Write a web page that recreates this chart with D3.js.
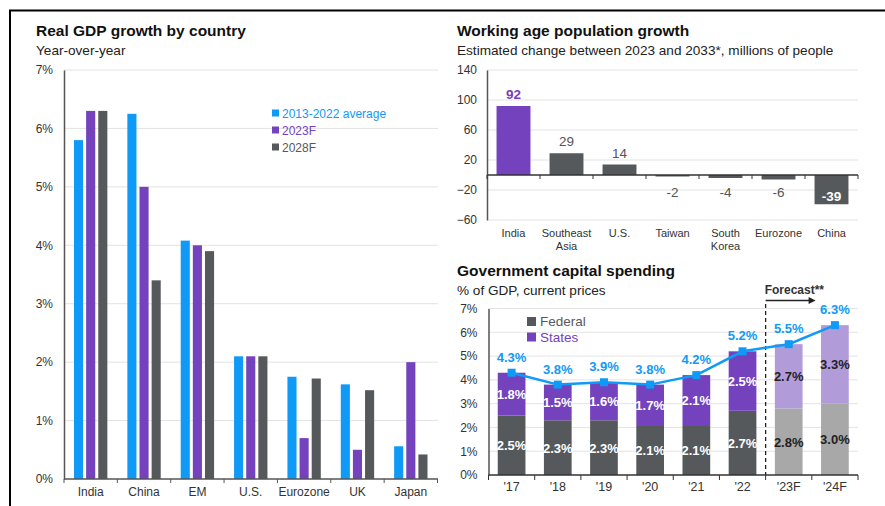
<!DOCTYPE html>
<html>
<head>
<meta charset="utf-8">
<script src="https://cdn.jsdelivr.net/npm/d3@7"></script>
<style>
  body { margin: 0; background: #fff; }
  svg { display: block; font-family: "Liberation Sans", Arial, sans-serif; }
</style>
</head>
<body>
<div id="chart"></div>
<script>
// --- data ---
const gdpCountries = ['India', 'China', 'EM', 'U.S.', 'Eurozone', 'UK', 'Japan'];
const gdpSeries = ['2013-2022 average', '2023F', '2028F'];
const gdpAvg = [5.8, 6.25, 4.08, 2.1, 1.75, 1.62, 0.56];
const gdp2023 = [6.3, 5.0, 4.0, 2.1, 0.7, 0.5, 2.0];
const gdp2028 = [6.3, 3.4, 3.9, 2.1, 1.72, 1.52, 0.42];
const gdpTicks = [0, 1, 2, 3, 4, 5, 6, 7];

const popRegions = [['India'], ['Southeast', 'Asia'], ['U.S.'], ['Taiwan'], ['South', 'Korea'], ['Eurozone'], ['China']];
const popChange = [92, 29, 14, -2, -4, -6, -39];
const popTicks = [-60, -20, 20, 60, 100, 140];

const capYears = ["'17", "'18", "'19", "'20", "'21", "'22", "'23F", "'24F"];
const capFederal = [2.5, 2.3, 2.3, 2.1, 2.1, 2.7, 2.8, 3.0];
const capStates = [1.8, 1.5, 1.6, 1.7, 2.1, 2.5, 2.7, 3.3];
const capTotal = [4.3, 3.8, 3.9, 3.8, 4.2, 5.2, 5.5, 6.3];
const capForecast = [false, false, false, false, false, false, true, true];
const capTicks = [0, 1, 2, 3, 4, 5, 6, 7];

const blue = '#0f9af7';
const purple = '#7442bd';
const gray = '#56595c';
const lightGray = '#a8a8a8';
const lightPurple = '#b29bd9';
const gridColor = '#e3e3e3';
const axisColor = '#555';

const svg = d3.select('#chart').append('svg')
  .attr('width', 885)
  .attr('height', 506);

svg.append('rect').attr('width', 885).attr('height', 506).attr('fill', '#fff');

// frame
svg.append('path')
  .attr('d', 'M10,506 V10.5 H885')
  .attr('fill', 'none')
  .attr('stroke', '#000')
  .attr('stroke-width', 2);

function titles(x, y, title, sub) {
  svg.append('text').attr('x', x).attr('y', y)
    .attr('font-size', 15.5).attr('font-weight', 'bold').attr('fill', '#111')
    .text(title);
  svg.append('text').attr('x', x).attr('y', y + 19)
    .attr('font-size', 13.6).attr('fill', '#222')
    .text(sub);
}

// ---------- Panel 1: Real GDP growth ----------
titles(36, 36, 'Real GDP growth by country', 'Year-over-year');

const x1 = d3.scaleBand().domain(gdpCountries).range([64, 437.5]);
const y1 = d3.scaleLinear().domain([0, 7]).range([479, 70]);
const x1s = d3.scaleBand().domain(gdpSeries).range([10, x1.bandwidth() - 10]).paddingInner(0.25);
const gdpColors = [blue, purple, gray];
const gdpValues = [gdpAvg, gdp2023, gdp2028];

const g1 = svg.append('g');
g1.selectAll('line.grid').data(gdpTicks.slice(1)).join('line')
  .attr('x1', 64).attr('x2', 438)
  .attr('y1', d => y1(d)).attr('y2', d => y1(d))
  .attr('stroke', gridColor);

gdpSeries.forEach((s, si) => {
  g1.append('g').selectAll('rect').data(gdpCountries).join('rect')
    .attr('x', d => x1(d) + x1s(s))
    .attr('width', x1s.bandwidth())
    .attr('y', (d, i) => y1(gdpValues[si][i]))
    .attr('height', (d, i) => y1(0) - y1(gdpValues[si][i]))
    .attr('fill', gdpColors[si]);
});

g1.append('g').attr('transform', 'translate(64,0)')
  .call(d3.axisLeft(y1).tickValues(gdpTicks).tickSize(0).tickPadding(11).tickFormat(d => d + '%'))
  .call(g => g.select('.domain').attr('stroke', axisColor).attr('stroke-width', 1.5))
  .call(g => g.selectAll('text').attr('font-size', 12).attr('fill', '#333').attr('font-family', 'inherit'));

const xa1 = g1.append('g').attr('transform', 'translate(0,479)');
xa1.append('line').attr('x1', 64).attr('x2', 438).attr('stroke', axisColor).attr('stroke-width', 1.5);
xa1.selectAll('line.tk').data(d3.range(gdpCountries.length + 1)).join('line')
  .attr('x1', i => 64 + i * x1.step()).attr('x2', i => 64 + i * x1.step())
  .attr('y1', 0).attr('y2', 4).attr('stroke', axisColor);
xa1.selectAll('text').data(gdpCountries).join('text')
  .attr('x', d => x1(d) + x1.bandwidth() / 2).attr('y', 17)
  .attr('text-anchor', 'middle').attr('font-size', 12).attr('fill', '#333')
  .text(d => d);

const leg1 = g1.append('g').attr('transform', 'translate(272,113)');
gdpSeries.forEach((s, i) => {
  leg1.append('rect').attr('x', 0).attr('y', i * 17 - 3.5).attr('width', 7).attr('height', 7).attr('fill', gdpColors[i]);
  leg1.append('text').attr('x', 10).attr('y', i * 17 + 4.5)
    .attr('font-size', 12).attr('fill', gdpColors[i]).text(s);
});

// ---------- Panel 2: Working age population ----------
titles(457, 36, 'Working age population growth', 'Estimated change between 2023 and 2033*, millions of people');

const x2 = d3.scaleBand().domain(d3.range(popRegions.length)).range([487, 858]).paddingInner(0.36).paddingOuter(0.18);
const y2 = d3.scaleLinear().domain([-60, 140]).range([220, 70]);
const g2 = svg.append('g');

g2.selectAll('line.grid').data(popTicks).join('line')
  .attr('x1', 487).attr('x2', 858)
  .attr('y1', d => y2(d)).attr('y2', d => y2(d))
  .attr('stroke', gridColor);

g2.selectAll('rect').data(popChange).join('rect')
  .attr('x', (d, i) => x2(i))
  .attr('width', x2.bandwidth())
  .attr('y', d => y2(Math.max(0, d)))
  .attr('height', d => Math.abs(y2(d) - y2(0)))
  .attr('fill', (d, i) => i === 0 ? purple : gray);

g2.selectAll('text.val').data(popChange).join('text')
  .attr('x', (d, i) => x2(i) + x2.bandwidth() / 2)
  .attr('y', d => d >= 0 ? y2(d) - 7 : (d < -20 ? y2(d) - 3 : y2(0) + 22))
  .attr('text-anchor', 'middle')
  .attr('font-size', 13.5)
  .attr('font-weight', (d, i) => i === 0 || d < -20 ? 'bold' : 'normal')
  .attr('fill', (d, i) => i === 0 ? purple : (d < -20 ? '#fff' : '#555'))
  .text(d => d);

g2.append('g').attr('transform', 'translate(487,0)')
  .call(d3.axisLeft(y2).tickValues(popTicks).tickSize(0).tickPadding(10))
  .call(g => g.select('.domain').attr('stroke', axisColor).attr('stroke-width', 1.5))
  .call(g => g.selectAll('text').attr('font-size', 12).attr('fill', '#333').attr('font-family', 'inherit'));

const xa2 = g2.append('g').attr('transform', `translate(0,${y2(0)})`);
xa2.append('line').attr('x1', 487).attr('x2', 858).attr('stroke', '#333').attr('stroke-width', 1.5);
xa2.selectAll('line.tk').data(d3.range(popRegions.length + 1)).join('line')
  .attr('x1', i => 487 + i * (858 - 487) / popRegions.length)
  .attr('x2', i => 487 + i * (858 - 487) / popRegions.length)
  .attr('y1', 0).attr('y2', 4).attr('stroke', '#333');

const xl2 = g2.append('g');
popRegions.forEach((lines, i) => {
  const t = xl2.append('text')
    .attr('x', x2(i) + x2.bandwidth() / 2).attr('y', 237)
    .attr('text-anchor', 'middle').attr('font-size', 11).attr('fill', '#333');
  lines.forEach((l, j) => t.append('tspan').attr('x', x2(i) + x2.bandwidth() / 2).attr('dy', j ? 12.5 : 0).text(l));
});

// ---------- Panel 3: Government capital spending ----------
titles(457, 276, 'Government capital spending', '% of GDP, current prices');

const x3 = d3.scaleBand().domain(capYears).range([488.5, 858]).paddingInner(0.4).paddingOuter(0.2);
const y3 = d3.scaleLinear().domain([0, 7]).range([475, 308.5]);
const g3 = svg.append('g');

g3.selectAll('line.grid').data(capTicks.slice(1)).join('line')
  .attr('x1', 488.5).attr('x2', 858)
  .attr('y1', d => y3(d)).attr('y2', d => y3(d))
  .attr('stroke', gridColor);

const stack = capYears.map((yr, i) => ({ yr, fed: capFederal[i], st: capStates[i], total: capTotal[i], f: capForecast[i] }));

g3.selectAll('rect.fed').data(stack).join('rect')
  .attr('x', d => x3(d.yr)).attr('width', x3.bandwidth())
  .attr('y', d => y3(d.fed)).attr('height', d => y3(0) - y3(d.fed))
  .attr('fill', d => d.f ? lightGray : gray);

g3.selectAll('rect.st').data(stack).join('rect')
  .attr('x', d => x3(d.yr)).attr('width', x3.bandwidth())
  .attr('y', d => y3(d.fed + d.st)).attr('height', d => y3(d.fed) - y3(d.fed + d.st))
  .attr('fill', d => d.f ? lightPurple : purple);

g3.selectAll('text.fedl').data(stack).join('text')
  .attr('x', d => x3(d.yr) + x3.bandwidth() / 2)
  .attr('y', d => y3(d.fed / 2) + 5)
  .attr('text-anchor', 'middle').attr('font-size', 13).attr('font-weight', 'bold')
  .attr('fill', d => d.f ? '#222' : '#fff')
  .text(d => d.fed.toFixed(1) + '%');

g3.selectAll('text.stl').data(stack).join('text')
  .attr('x', d => x3(d.yr) + x3.bandwidth() / 2)
  .attr('y', d => y3(d.fed + d.st / 2) + 5)
  .attr('text-anchor', 'middle').attr('font-size', 13).attr('font-weight', 'bold')
  .attr('fill', d => d.f ? '#222' : '#fff')
  .text(d => d.st.toFixed(1) + '%');

// forecast divider
const divX = x3("'23F") - x3.step() * x3.paddingInner() / 2;
g3.append('line')
  .attr('x1', divX).attr('x2', divX).attr('y1', 304).attr('y2', 475)
  .attr('stroke', '#222').attr('stroke-width', 1.3).attr('stroke-dasharray', '4,3');
g3.append('text').attr('x', divX - 1).attr('y', 294)
  .attr('font-size', 12).attr('font-weight', 'bold').attr('fill', '#333')
  .text('Forecast**');
g3.append('line').attr('x1', divX).attr('x2', divX + 44).attr('y1', 300.5).attr('y2', 300.5)
  .attr('stroke', '#222').attr('stroke-width', 1.3);
g3.append('path')
  .attr('d', `M${divX + 50},300.5 l-7,-3.5 v7 z`)
  .attr('fill', '#222');

// total line
const line = d3.line().x(d => x3(d.yr) + x3.bandwidth() / 2).y(d => y3(d.total));
g3.append('path').datum(stack).attr('d', line)
  .attr('fill', 'none').attr('stroke', blue).attr('stroke-width', 2.5);
g3.selectAll('rect.mk').data(stack).join('rect')
  .attr('x', d => x3(d.yr) + x3.bandwidth() / 2 - 4)
  .attr('y', d => y3(d.total) - 4)
  .attr('width', 8).attr('height', 8).attr('fill', blue);
g3.selectAll('text.tot').data(stack).join('text')
  .attr('x', d => x3(d.yr) + x3.bandwidth() / 2)
  .attr('y', d => y3(d.total) - 11)
  .attr('text-anchor', 'middle').attr('font-size', 13).attr('font-weight', 'bold')
  .attr('fill', blue)
  .text(d => d.total.toFixed(1) + '%');

g3.append('g').attr('transform', 'translate(488.5,0)')
  .call(d3.axisLeft(y3).tickValues(capTicks).tickSize(0).tickPadding(11).tickFormat(d => d + '%'))
  .call(g => g.select('.domain').attr('stroke', axisColor).attr('stroke-width', 1.5))
  .call(g => g.selectAll('text').attr('font-size', 12).attr('fill', '#333').attr('font-family', 'inherit'));

const xa3 = g3.append('g').attr('transform', 'translate(0,475)');
xa3.append('line').attr('x1', 488.5).attr('x2', 858).attr('stroke', '#333').attr('stroke-width', 1.5);
xa3.selectAll('line.tk').data(d3.range(capYears.length + 1)).join('line')
  .attr('x1', i => 488.5 + i * x3.step() * 0 + i * (858 - 488.5) / capYears.length)
  .attr('x2', i => 488.5 + i * (858 - 488.5) / capYears.length)
  .attr('y1', 0).attr('y2', 5).attr('stroke', '#333');
xa3.selectAll('text').data(capYears).join('text')
  .attr('x', d => x3(d) + x3.bandwidth() / 2).attr('y', 16)
  .attr('text-anchor', 'middle').attr('font-size', 12.5).attr('fill', '#333')
  .text(d => d);

const leg3 = g3.append('g').attr('transform', 'translate(527,317)');
[['Federal', gray], ['States', purple]].forEach(([name, c], i) => {
  leg3.append('rect').attr('x', 0).attr('y', i * 15.5).attr('width', 9).attr('height', 9).attr('fill', c);
  leg3.append('text').attr('x', 13).attr('y', i * 15.5 + 9)
    .attr('font-size', 13.5).attr('fill', c).text(name);
});
</script>
</body>
</html>
